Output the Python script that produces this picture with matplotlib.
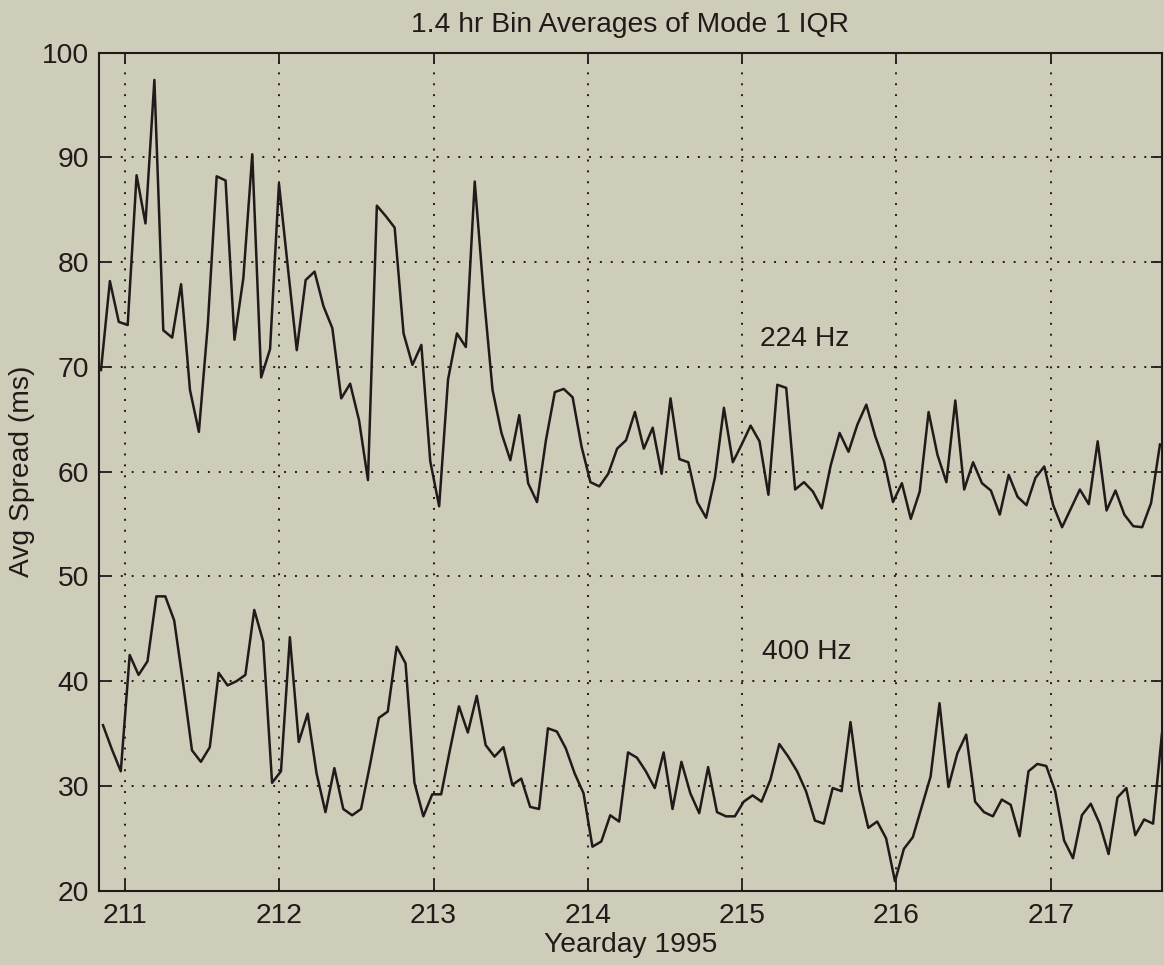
import numpy as np
import matplotlib
matplotlib.use('Agg')
import matplotlib.pyplot as plt

# 1.4 hr bins, start yearday of each series
bin_days = 0.05768
start_224 = 210.844
start_400 = 210.857

spread_224 = [69.7, 78.2, 74.3, 74.0, 88.3, 83.7, 97.4, 73.5, 72.8, 77.9,
              67.8, 63.8, 74.0, 88.2, 87.8, 72.6, 78.5, 90.3, 69.0, 71.7,
              87.5, 79.5, 71.6, 78.3, 79.1, 75.8, 73.7, 67.0, 68.4, 64.9,
              59.2, 85.4, 84.4, 83.3, 73.2, 70.2, 72.1, 61.0, 56.7, 68.8,
              73.2, 71.9, 87.7, 77.0, 67.8, 63.7, 61.1, 65.4, 58.9, 57.1,
              63.0, 67.6, 67.9, 67.1, 62.4, 59.0, 58.6, 59.8, 62.2, 63.0,
              65.7, 62.2, 64.2, 59.8, 67.0, 61.2, 60.9, 57.1, 55.6, 59.5,
              66.1, 60.9, 62.6, 64.4, 62.9, 57.8, 68.3, 68.0, 58.3, 59.0,
              58.1, 56.5, 60.6, 63.7, 61.9, 64.5, 66.4, 63.4, 61.0, 57.1,
              58.9, 55.5, 58.1, 65.7, 61.6, 59.0, 66.8, 58.3, 60.9, 58.9,
              58.2, 55.9, 59.7, 57.6, 56.8, 59.4, 60.5, 56.8, 54.7, 56.5,
              58.3, 56.9, 62.9, 56.3, 58.2, 55.9, 54.8, 54.7, 57.0, 62.6]

spread_400 = [35.8, 33.5, 31.4, 42.5, 40.6, 41.9, 48.1, 48.1, 45.8, 39.8,
              33.4, 32.3, 33.7, 40.8, 39.6, 40.0, 40.6, 46.8, 43.8, 30.3,
              31.4, 44.2, 34.2, 36.9, 31.2, 27.5, 31.7, 27.8, 27.2, 27.8,
              32.0, 36.5, 37.1, 43.3, 41.7, 30.3, 27.1, 29.2, 29.2, 33.5,
              37.6, 35.1, 38.6, 33.9, 32.8, 33.7, 30.1, 30.7, 28.0, 27.8,
              35.5, 35.2, 33.6, 31.2, 29.3, 24.2, 24.7, 27.2, 26.6, 33.2,
              32.7, 31.4, 29.8, 33.2, 27.8, 32.3, 29.3, 27.4, 31.8, 27.5,
              27.1, 27.1, 28.5, 29.1, 28.5, 30.6, 34.0, 32.8, 31.4, 29.5,
              26.7, 26.4, 29.8, 29.5, 36.1, 29.6, 26.0, 26.6, 25.0, 20.9,
              24.0, 25.1, 28.0, 30.9, 37.9, 29.9, 33.1, 34.9, 28.5, 27.5,
              27.1, 28.7, 28.2, 25.2, 31.4, 32.1, 31.9, 29.5, 24.8, 23.1,
              27.2, 28.3, 26.4, 23.5, 28.9, 29.8, 25.3, 26.8, 26.4, 35.0]

yearday_224 = start_224 + bin_days * np.arange(len(spread_224))
yearday_400 = start_400 + bin_days * np.arange(len(spread_400))

xticks = [211, 212, 213, 214, 215, 216, 217]
yticks = [20, 30, 40, 50, 60, 70, 80, 90, 100]

bg = '#cecdb9'
ink = '#221a1a'
fs = 20.3

plt.rcParams['font.family'] = ['Liberation Sans', 'DejaVu Sans']

fig = plt.figure(figsize=(11.64, 9.65), dpi=100, facecolor=bg)
ax = fig.add_axes([0.0851, 0.0770, 0.9129, 0.8684], facecolor=bg)

ax.plot(yearday_224, spread_224, color=ink, lw=1.8)
ax.plot(yearday_400, spread_400, color=ink, lw=1.8)

ax.set_xlim(210.8315, 217.719)
ax.set_ylim(20, 100)
ax.set_xticks(xticks)
ax.set_yticks(yticks)
ax.grid(True, color=ink, linestyle=(0, (1, 4.6)), lw=1.4)
ax.tick_params(direction='in', length=8, width=1.3, top=True, right=True,
               labelsize=fs, colors=ink, pad=7)
ax.tick_params(axis='x', pad=9)
for s in ax.spines.values():
    s.set_linewidth(1.5)
    s.set_color(ink)

ax.set_title('1.4 hr Bin Averages of Mode 1 IQR', fontsize=fs, pad=15, color=ink)
ax.set_xlabel('Yearday 1995', fontsize=fs, labelpad=2, color=ink)
ax.set_ylabel('Avg Spread (ms)', fontsize=fs, labelpad=5, color=ink)

ax.text(215.115, 72.67, '224 Hz', fontsize=fs, va='center', color=ink)
ax.text(215.126, 42.8, '400 Hz', fontsize=fs, va='center', color=ink)

fig.savefig('out.png', dpi=100, facecolor=bg)
